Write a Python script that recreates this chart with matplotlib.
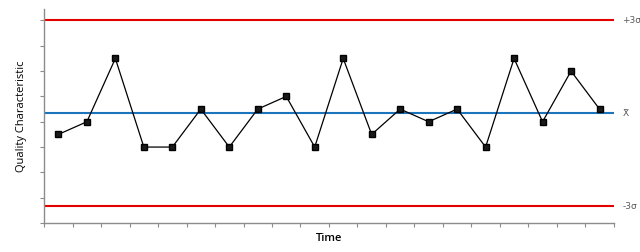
import matplotlib.pyplot as plt
import numpy as np

# data (20 samples)
values = [3.5, 4, 6.5, 3, 3, 4.5, 3, 4.5, 5, 3, 6.5, 3.5, 4.5, 4, 4.5, 3, 6.5, 4, 6, 4.5]
center = 4.33
ucl = 8.0
lcl = 0.66
limit_labels = ['+3σ', 'X̄', '-3σ']

plt.rcParams['font.family'] = ['Open Sans', 'DejaVu Sans']

fig = plt.figure(figsize=(6.4, 2.52), dpi=100)
ax = fig.add_axes([0.069, 0.115, 0.890, 0.849])

n = len(values)
x = np.arange(n) + 0.5

ax.axhline(ucl, color='#e50000', lw=1.5, zorder=2)
ax.axhline(lcl, color='#e50000', lw=1.5, zorder=2)
ax.axhline(center, color='#1a75bc', lw=1.5, zorder=2)
ax.plot(x, values, color='black', lw=0.9, marker='s', markersize=3.8,
        markerfacecolor='#1a1a1a', markeredgecolor='black', zorder=3)

ax.set_xlim(0, n)
ax.set_ylim(0, 8.45)
ax.set_xticks(np.arange(n + 1))
ax.set_yticks(np.arange(0, 9))
ax.set_xticklabels([])
ax.set_yticklabels([])
ax.tick_params(axis='both', direction='out', length=3, width=0.8, color='#8c8c8c')

for s in ['top', 'right']:
    ax.spines[s].set_visible(False)
for s in ['left', 'bottom']:
    ax.spines[s].set_color('#8c8c8c')
    ax.spines[s].set_linewidth(1.0)

for yv, lab in zip([ucl, center, lcl], limit_labels):
    ax.text(n + 0.3, yv, lab, fontsize=6.5, color='#595959', va='center', ha='left',
            family=['DejaVu Sans'])

ax.set_xlabel('Time', fontsize=8, labelpad=1, fontweight='semibold')
ax.set_ylabel('Quality Characteristic', fontsize=8, labelpad=6)

fig.savefig('out.png', dpi=100, facecolor='white')
